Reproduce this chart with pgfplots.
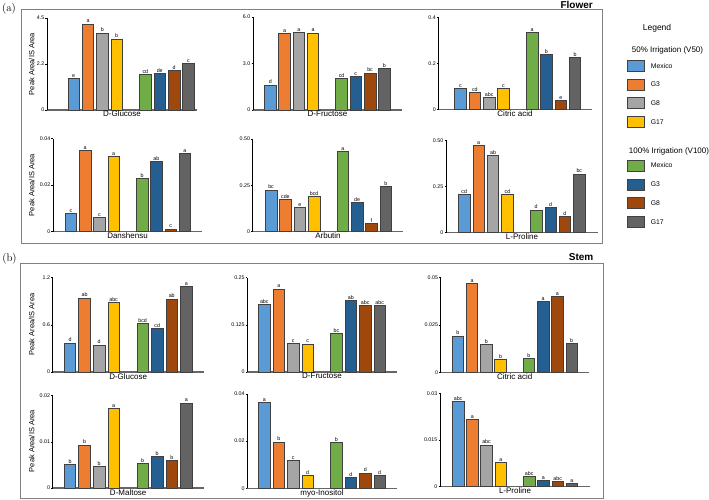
\documentclass[border=0pt]{standalone}
\usepackage{fontspec}
\setsansfont{Liberation Sans}
\usepackage{pgfplots}
\pgfplotsset{compat=1.18}
\definecolor{mexA}{HTML}{5B9BD5}
\definecolor{gtA}{HTML}{ED7D31}
\definecolor{geA}{HTML}{A5A5A5}
\definecolor{gsA}{HTML}{FFC000}
\definecolor{mexB}{HTML}{70AD47}
\definecolor{gtB}{HTML}{255E91}
\definecolor{geB}{HTML}{9E480E}
\definecolor{gsB}{HTML}{636363}
\newcommand{\B}[4]{\addplot[fill=#1] coordinates {(#2,#3) [#4]};}
\newcommand{\tickfont}{\sffamily\fontsize{5.3}{6}\selectfont}
\pgfplotsset{
  panel/.style={
    scale only axis, ybar, bar width=11.5pt, bar shift=0pt,
    ymin=0, axis x line*=bottom, axis y line*=left,
    x axis line style={line width=1.2pt, draw=black!60, -},
    y axis line style={line width=0.7pt, draw=black, -},
    xtick=\empty, scaled y ticks=false,
    ytick style={draw=black, line width=0.5pt}, major tick length=1.5pt, tick align=outside,
    yticklabel style={font=\tickfont, inner sep=1pt},
    /pgf/number format/assume math mode=true,
    clip=false,
    point meta=explicit symbolic,
    nodes near coords,
    nodes near coords style={font=\tickfont, inner sep=0.8pt, text=black, anchor=south},
    every axis plot/.append style={draw=black!75, line width=0.6pt},
    xlabel style={at={(rel axis cs:0.5,0)}, anchor=north, inner sep=1pt, font=\sffamily\fontsize{8}{9}\selectfont},
    anchor=south west,
  }
}
\begin{document}
\begin{tikzpicture}
\path[use as bounding box] (0pt,0pt) rectangle (709pt,-500pt);
% frames
\draw[black!50, line width=0.9pt] (21pt,-9pt) rectangle (602.7pt,-243.5pt);
\draw[black!50, line width=0.9pt] (20.7pt,-263.3pt) rectangle (603.3pt,-498.3pt);
\node[font=\fontsize{11}{12}\selectfont, inner sep=0pt] at (9pt,-8.5pt) {(a)};
\node[font=\fontsize{11}{12}\selectfont, inner sep=0pt] at (9.5pt,-258.5pt) {(b)};
\node[font=\sffamily\bfseries\fontsize{10}{11}\selectfont, inner sep=0pt, anchor=east] at (593pt,-5pt) {Flower};
\node[font=\sffamily\bfseries\fontsize{10}{11}\selectfont, inner sep=0pt, anchor=east] at (593.5pt,-257.3pt) {Stem};
% y labels
\foreach \yy in {64,185,324.5,441}{
  \node[font=\sffamily\fontsize{7.5}{8}\selectfont, rotate=90, inner sep=0pt] at (31.7pt,-\yy pt) {Peak Area/IS Area};
}
% ---------------- Flower row 1
\begin{axis}[panel, at={(47pt,-110pt)}, width=150pt, height=92pt, xmin=-0.86, xmax=9.6, ymax=4.5,
  ytick={0,2.25,4.5}, yticklabels={0,2.2,4.5}, xlabel={D-Glucose}]
\B{mexA}{1}{1.53}{e}\B{gtA}{2}{4.20}{a}\B{geA}{3}{3.77}{b}\B{gsA}{4}{3.47}{b}
\B{mexB}{6}{1.75}{cd}\B{gtB}{7}{1.78}{de}\B{geB}{8}{1.92}{d}\B{gsB}{9}{2.28}{c}
\end{axis}
\begin{axis}[panel, at={(253pt,-110pt)}, width=149pt, height=93pt, xmin=-0.21, xmax=10.24, ymax=6,
  ytick={0,3,6}, yticklabels={0,3.0,6.0}, xlabel={D-Fructose}]
\B{mexA}{1}{1.61}{d}\B{gtA}{2}{4.95}{a}\B{geA}{3}{5.01}{a}\B{gsA}{4}{4.97}{a}
\B{mexB}{6}{2.04}{cd}\B{gtB}{7}{2.15}{c}\B{geB}{8}{2.39}{bc}\B{gsB}{9}{2.67}{b}
\end{axis}
\begin{axis}[panel, at={(438.5pt,-109.5pt)}, width=153pt, height=92pt, xmin=-0.54, xmax=10.15, ymax=0.4,
  ytick={0,0.2,0.4}, yticklabels={0,0.2,0.4}, xlabel={Citric acid}]
\B{mexA}{1}{0.090}{c}\B{gtA}{2}{0.073}{cd}\B{geA}{3}{0.051}{abc}\B{gsA}{4}{0.090}{c}
\B{mexB}{6}{0.336}{a}\B{gtB}{7}{0.240}{b}\B{geB}{8}{0.039}{e}\B{gsB}{9}{0.226}{b}
\end{axis}
% ---------------- Flower row 2
\begin{axis}[panel, at={(53pt,-231.5pt)}, width=149pt, height=93pt, xmin=-0.26, xmax=10.2, ymax=0.04,
  ytick={0,0.02,0.04}, yticklabels={0,0.02,0.04}, xlabel={Danshensu}]
\B{mexA}{1}{0.0078}{c}\B{gtA}{2}{0.0348}{a}\B{geA}{3}{0.0061}{c}\B{gsA}{4}{0.0323}{a}
\B{mexB}{6}{0.0229}{b}\B{gtB}{7}{0.0301}{ab}\B{geB}{8}{0.0011}{c}\B{gsB}{9}{0.0335}{a}
\end{axis}
\begin{axis}[panel, at={(252.7pt,-231.7pt)}, width=150.6pt, height=92.7pt, xmin=-0.28, xmax=10.22, ymax=0.5,
  ytick={0,0.25,0.5}, yticklabels={0,0.25,0.50}, xlabel={Arbutin}]
\B{mexA}{1}{0.225}{bc}\B{gtA}{2}{0.175}{cde}\B{geA}{3}{0.132}{e}\B{gsA}{4}{0.189}{bcd}
\B{mexB}{6}{0.434}{a}\B{gtB}{7}{0.156}{de}\B{geB}{8}{0.043}{f}\B{gsB}{9}{0.245}{b}
\end{axis}
\begin{axis}[panel, at={(446pt,-232.5pt)}, width=152pt, height=92pt, xmin=-0.27, xmax=10.3, ymax=0.5,
  ytick={0,0.25,0.5}, yticklabels={0,0.25,0.50}, xlabel={L-Proline}]
\B{mexA}{1}{0.205}{cd}\B{gtA}{2}{0.473}{a}\B{geA}{3}{0.420}{ab}\B{gsA}{4}{0.205}{cd}
\B{mexB}{6}{0.122}{d}\B{gtB}{7}{0.136}{d}\B{geB}{8}{0.087}{d}\B{gsB}{9}{0.319}{bc}
\end{axis}
% ---------------- Stem row 1
\begin{axis}[panel, at={(52.7pt,-372pt)}, width=151pt, height=94.5pt, xmin=-0.19, xmax=10.2, ymax=1.2,
  ytick={0,0.6,1.2}, yticklabels={0,0.6,1.2}, xlabel={D-Glucose}]
\B{mexA}{1}{0.370}{d}\B{gtA}{2}{0.940}{ab}\B{geA}{3}{0.345}{d}\B{gsA}{4}{0.885}{abc}
\B{mexB}{6}{0.613}{bcd}\B{gtB}{7}{0.549}{cd}\B{geB}{8}{0.927}{ab}\B{gsB}{9}{1.085}{a}
\end{axis}
\begin{axis}[panel, at={(247.3pt,-372pt)}, width=149.4pt, height=94.3pt, xmin=-0.18, xmax=10.18, ymax=0.25,
  ytick={0,0.125,0.25}, yticklabels={0,0.125,0.25}, xlabel={D-Fructose}]
\B{mexA}{1}{0.179}{abc}\B{gtA}{2}{0.220}{a}\B{geA}{3}{0.076}{c}\B{gsA}{4}{0.074}{c}
\B{mexB}{6}{0.102}{bc}\B{gtB}{7}{0.190}{ab}\B{geB}{8}{0.177}{abc}\B{gsB}{9}{0.177}{abc}
\end{axis}
\begin{axis}[panel, at={(440.7pt,-372.3pt)}, width=148pt, height=94.6pt, xmin=-0.2, xmax=10.2, ymax=0.05,
  ytick={0,0.025,0.05}, yticklabels={0,0.025,0.05}, xlabel={Citric acid}]
\B{mexA}{1}{0.0192}{b}\B{gtA}{2}{0.0470}{a}\B{geA}{3}{0.0148}{b}\B{gsA}{4}{0.0069}{b}
\B{mexB}{6}{0.0074}{b}\B{gtB}{7}{0.0373}{a}\B{geB}{8}{0.0400}{a}\B{gsB}{9}{0.0153}{b}
\end{axis}
% ---------------- Stem row 2
\begin{axis}[panel, at={(52.7pt,-488pt)}, width=151pt, height=92.3pt, xmin=-0.19, xmax=10.2, ymax=0.02,
  ytick={0,0.01,0.02}, yticklabels={0,0.01,0.02}, xlabel={D-Maltose}]
\B{mexA}{1}{0.0051}{b}\B{gtA}{2}{0.0093}{b}\B{geA}{3}{0.0047}{b}\B{gsA}{4}{0.0172}{a}
\B{mexB}{6}{0.0053}{b}\B{gtB}{7}{0.0069}{b}\B{geB}{8}{0.0060}{b}\B{gsB}{9}{0.0184}{a}
\end{axis}
\begin{axis}[panel, at={(247.3pt,-488.3pt)}, width=149.4pt, height=94.3pt, xmin=-0.18, xmax=10.18, ymax=0.04,
  ytick={0,0.02,0.04}, yticklabels={0,0.02,0.04}, xlabel={myo-Inositol}]
\B{mexA}{1}{0.0364}{a}\B{gtA}{2}{0.0197}{b}\B{geA}{3}{0.0117}{c}\B{gsA}{4}{0.0054}{d}
\B{mexB}{6}{0.0194}{b}\B{gtB}{7}{0.0047}{d}\B{geB}{8}{0.0065}{d}\B{gsB}{9}{0.0054}{d}
\end{axis}
\begin{axis}[panel, at={(440pt,-486.7pt)}, width=150pt, height=93.4pt, xmin=-0.27, xmax=10.27, ymax=0.03,
  ytick={0,0.015,0.03}, yticklabels={0,0.015,0.03}, xlabel={L-Proline}]
\B{mexA}{1}{0.0274}{abc}\B{gtA}{2}{0.0216}{a}\B{geA}{3}{0.0134}{abc}\B{gsA}{4}{0.0078}{a}
\B{mexB}{6}{0.0033}{abc}\B{gtB}{7}{0.0019}{a}\B{geB}{8}{0.0016}{abc}\B{gsB}{9}{0.0011}{a}
\end{axis}
% ---------------- Legend
\node[font=\sffamily\fontsize{8.5}{10}\selectfont] at (657pt,-28.3pt) {Legend};
\node[font=\sffamily\fontsize{8}{9}\selectfont] at (667.5pt,-50pt) {50\% Irrigation (V50)};
\node[font=\sffamily\fontsize{8}{9}\selectfont] at (669pt,-151pt) {100\% Irrigation (V100)};
\foreach \c/\t/\yy in {mexA/Mexico/65.8, gtA/G3/84.6, geA/G8/103.3, gsA/G17/122,
                       mexB/Mexico/165.5, gtB/G3/184.3, geB/G8/203.2, gsB/G17/222.2}{
  \draw[fill=\c, draw=black!75, line width=0.6pt] (627pt,-\yy pt+5.5pt) rectangle (644.3pt,-\yy pt-5.5pt);
  \node[anchor=west, font=\sffamily\fontsize{6.8}{8}\selectfont, inner sep=0pt] at (650.7pt,-\yy pt) {\t};
}
\end{tikzpicture}
\end{document}
